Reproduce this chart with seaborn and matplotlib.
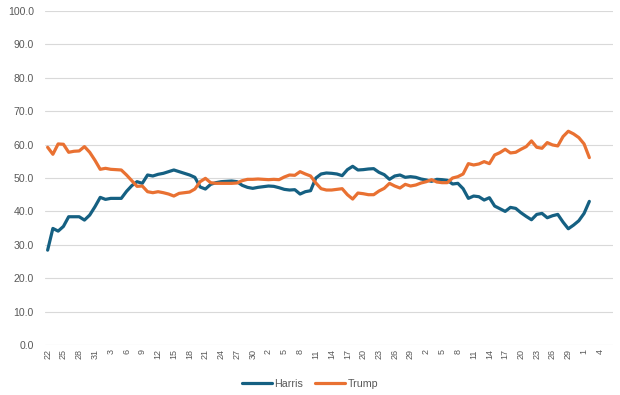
import numpy as np
import pandas as pd
import matplotlib
matplotlib.use("Agg")
import matplotlib.pyplot as plt
import seaborn as sns
from matplotlib.lines import Line2D

# ---- data (daily, Jul 22 -> Nov 2) ----
harris = [28.4, 34.9, 34.1, 35.5, 38.4, 38.4, 38.4, 37.4, 38.9, 41.4,
          44.2, 43.6, 43.9, 43.9, 43.9, 46.0, 47.7, 48.9, 48.4, 50.9,
          50.6, 51.1, 51.4, 51.9, 52.4, 51.9, 51.4, 50.9, 50.2, 47.3,
          46.7, 48.1, 48.6, 48.9, 49.0, 49.1, 48.9, 47.8, 47.2, 46.9,
          47.2, 47.4, 47.6, 47.5, 47.1, 46.6, 46.4, 46.5, 45.2, 45.9,
          46.2, 50.0, 51.2, 51.5, 51.4, 51.2, 50.7, 52.5, 53.5, 52.4,
          52.5, 52.7, 52.8, 51.7, 51.0, 49.6, 50.6, 50.9, 50.2, 50.4,
          50.2, 49.7, 49.4, 49.0, 49.6, 49.5, 49.3, 48.2, 48.4, 46.8,
          43.9, 44.6, 44.4, 43.4, 44.1, 41.6, 40.8, 40.0, 41.2, 40.9,
          39.6, 38.5, 37.5, 39.1, 39.4, 38.1, 38.7, 39.1, 36.8, 34.8,
          35.9, 37.2, 39.4, 43.0]
trump = [59.2, 57.1, 60.2, 60.1, 57.7, 58.0, 58.1, 59.4, 57.7, 55.3,
         52.6, 52.9, 52.6, 52.5, 52.4, 50.9, 49.2, 47.5, 47.6, 45.9,
         45.6, 45.9, 45.6, 45.2, 44.6, 45.4, 45.6, 45.8, 46.7, 48.9,
         49.9, 48.6, 48.4, 48.4, 48.4, 48.4, 48.5, 49.2, 49.6, 49.6,
         49.7, 49.6, 49.5, 49.6, 49.5, 50.3, 50.9, 50.8, 51.9, 51.2,
         50.6, 48.5, 46.8, 46.4, 46.4, 46.6, 46.8, 45.0, 43.7, 45.5,
         45.3, 45.0, 45.0, 46.1, 46.9, 48.4, 47.6, 47.0, 48.1, 47.6,
         47.9, 48.5, 48.9, 49.5, 48.8, 48.6, 48.6, 50.0, 50.4, 51.2,
         54.3, 53.9, 54.2, 54.9, 54.3, 56.9, 57.6, 58.6, 57.5, 57.7,
         58.6, 59.4, 61.1, 59.2, 58.9, 60.6, 59.9, 59.6, 62.4, 64.0,
         63.2, 62.1, 60.2, 56.1]
series_names = ["Harris", "Trump"]
tick_labels = ["22", "25", "28", "31", "3", "6", "9", "12", "15", "18",
               "21", "24", "27", "30", "2", "5", "8", "11", "14", "17",
               "20", "23", "26", "29", "2", "5", "8", "11", "14", "17",
               "20", "23", "26", "29", "1", "4"]
y_ticks = [0, 10, 20, 30, 40, 50, 60, 70, 80, 90, 100]

# ---- build long-form frame ----
n = len(harris)
day = np.arange(n)
df = pd.DataFrame({
    "day": np.concatenate([day, day]),
    "value": harris + trump,
    "who": [series_names[0]] * n + [series_names[1]] * n,
})

sns.set_style("white")
plt.rcParams["font.family"] = ["Liberation Sans", "DejaVu Sans"]

fig = plt.figure(figsize=(6.2, 3.95), dpi=100)
ax = fig.add_axes([45 / 620, 1 - 345 / 395, 568 / 620, 334 / 395])

palette = {"Harris": "#156082", "Trump": "#E97132"}
sns.lineplot(data=df, x="day", y="value", hue="who", palette=palette,
             linewidth=2.3, ax=ax, legend=False)

ax.set_xlim(-0.5, 107.5)
ax.set_ylim(0, 100)
ax.set_yticks(y_ticks)
ax.set_yticklabels([f"{v:.1f}" for v in y_ticks], fontsize=7.6, color="#595959")
ax.set_xticks(np.arange(len(tick_labels)) * 3)
ax.set_xticklabels(tick_labels, rotation=90, fontsize=6.5, color="#595959")
ax.tick_params(axis="y", length=0, pad=8)
ax.tick_params(axis="x", length=0, pad=3)
ax.grid(axis="y", color="#D9D9D9", linewidth=0.8)
ax.set_axisbelow(True)
for s in ax.spines.values():
    s.set_visible(False)
ax.set_xlabel("")
ax.set_ylabel("")

handles = [Line2D([0], [0], color=palette[nm], linewidth=2.3) for nm in series_names]
fig.legend(handles, series_names, loc="center", bbox_to_anchor=(0.5, 1 - 384 / 395),
           ncol=2, frameon=False, fontsize=7.7, handlelength=2.8, handletextpad=0.25,
           columnspacing=1.1, labelcolor="#595959")

fig.savefig("out.png", dpi=100)
